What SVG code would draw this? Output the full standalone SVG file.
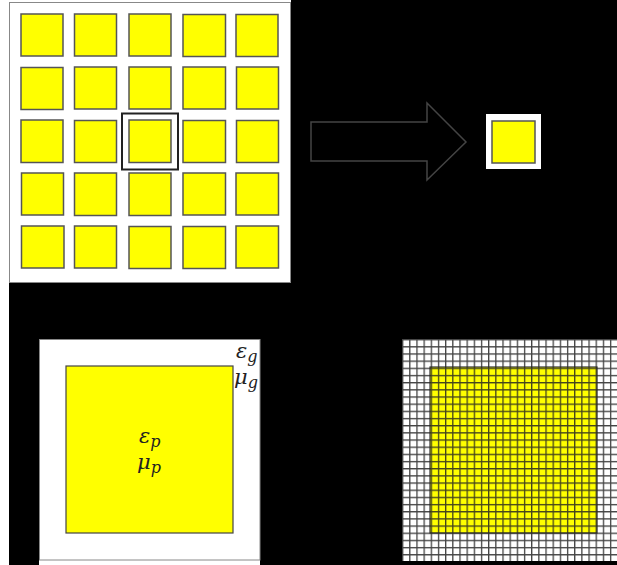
<svg xmlns="http://www.w3.org/2000/svg" width="617" height="565" viewBox="0 0 617 565">
<style>
.cell{fill:#ffff00;stroke:#555;stroke-width:1.5}
.panel{fill:#fff;stroke:#888;stroke-width:1}
.lbl{font-family:"DejaVu Serif","Liberation Serif",serif;font-style:italic;font-size:21px;fill:#222}
.sub{font-size:16px}
</style>
<defs>
<pattern id="grid" patternUnits="userSpaceOnUse" x="402" y="339" width="7.17" height="7.17">
<path d="M0.6,0V7.17M0,0.6H7.17" stroke="#222" stroke-width="1.4" fill="none" opacity="0.85"/>
</pattern>
</defs>
<rect x="0" y="0" width="617" height="565" fill="#000"/>
<rect x="0" y="0" width="9" height="565" fill="#fff"/>
<rect x="0" y="0" width="291" height="2" fill="#fff"/>

<g id="array">
<rect class="panel" x="9.5" y="2.5" width="281" height="280"/>
<g id="cells">
<rect class="cell" x="21" y="14" width="42" height="42"/>
<rect class="cell" x="74.5" y="14" width="42" height="42"/>
<rect class="cell" x="129" y="14" width="42" height="42"/>
<rect class="cell" x="183" y="14.5" width="42.5" height="42"/>
<rect class="cell" x="236" y="14.5" width="42" height="42"/>
<rect class="cell" x="21" y="67.5" width="42" height="42"/>
<rect class="cell" x="74.5" y="67" width="42" height="42"/>
<rect class="cell" x="129" y="67" width="42" height="42"/>
<rect class="cell" x="183" y="67" width="42.5" height="42"/>
<rect class="cell" x="236.5" y="67" width="42" height="42"/>
<rect class="cell" x="21" y="120" width="42" height="42.5"/>
<rect class="cell" x="74.5" y="120.5" width="42" height="42"/>
<rect class="cell" x="129" y="120" width="42" height="42.5"/>
<rect class="cell" x="183" y="120.5" width="42.5" height="42"/>
<rect class="cell" x="236.5" y="120.5" width="42" height="42"/>
<rect class="cell" x="21.5" y="173" width="42" height="42"/>
<rect class="cell" x="74.5" y="173" width="42" height="42.5"/>
<rect class="cell" x="129" y="173" width="42" height="42.5"/>
<rect class="cell" x="183" y="173" width="42.5" height="42"/>
<rect class="cell" x="236" y="173" width="42.5" height="42"/>
<rect class="cell" x="21.5" y="226" width="42.5" height="42"/>
<rect class="cell" x="74.5" y="226" width="42" height="42"/>
<rect class="cell" x="129" y="226.5" width="42" height="42"/>
<rect class="cell" x="183" y="226.5" width="42.5" height="42"/>
<rect class="cell" x="236" y="226" width="42.5" height="42"/>
</g>
<rect id="highlight" x="122" y="113.5" width="56" height="56" fill="none" stroke="#222" stroke-width="2"/>
</g>

<g id="connectors">
<path d="M311,122H427V103L466,142L427,180V161H311Z" fill="none" stroke="#444" stroke-width="1.5" stroke-linejoin="miter"/>
</g>

<g id="unitcell">
<rect x="486" y="114" width="55" height="55" fill="#fff"/>
<rect class="cell" x="492" y="121" width="43" height="42"/>
</g>

<g id="model">
<rect x="39" y="339" width="221" height="226" fill="#fff"/>
<rect class="panel" x="39.5" y="339.5" width="220.5" height="220.5"/>
<rect x="66" y="366" width="167" height="167" fill="#ffff00" stroke="#444" stroke-width="1.2"/>
<text class="lbl" x="236" y="358">ε<tspan class="sub" dy="4">g</tspan></text>
<text class="lbl" x="234" y="384">μ<tspan class="sub" dy="4">g</tspan></text>
<text class="lbl" x="139" y="443">ε<tspan class="sub" dy="4">p</tspan></text>
<text class="lbl" x="137" y="469">μ<tspan class="sub" dy="4">p</tspan></text>
</g>

<g id="mesh">
<rect x="402" y="339" width="215" height="222" fill="#fff"/>
<rect x="430" y="367" width="167" height="166" fill="#ffff00" stroke="#333" stroke-width="1.2"/>
<rect x="402" y="339" width="215" height="222" fill="url(#grid)"/>
</g>
</svg>
